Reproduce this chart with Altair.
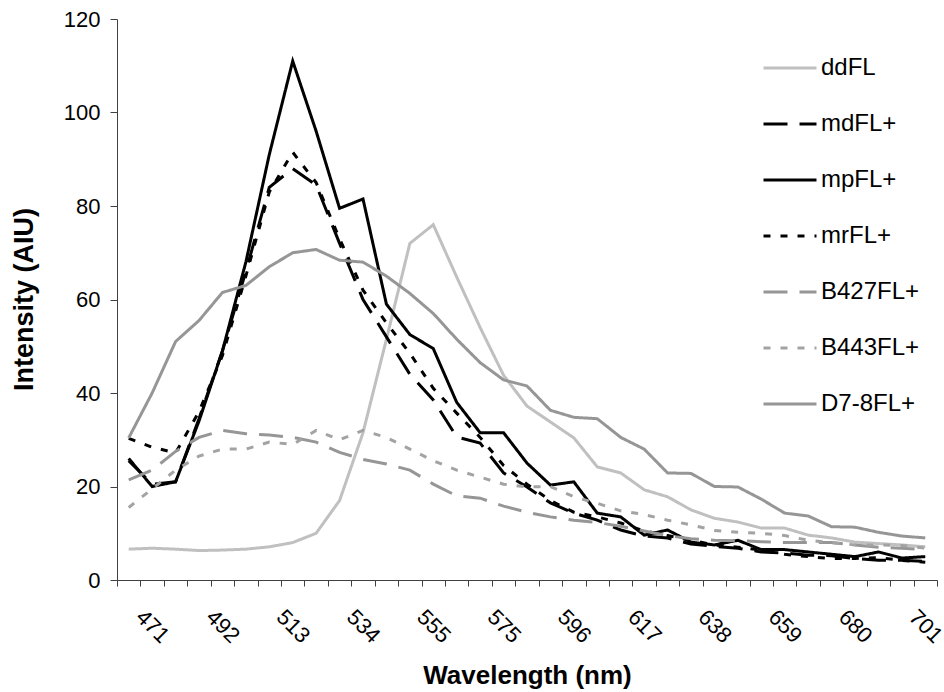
import altair as alt
import pandas as pd

wavelengths = [464, 471, 478, 485, 492, 499, 506, 513, 520, 527, 534, 541, 548, 555, 562,
               568, 575, 582, 589, 596, 603, 610, 617, 624, 631, 638, 645, 652, 659, 666,
               673, 680, 687, 694, 701]
tick_labels = ["471", "492", "513", "534", "555", "575", "596", "617", "638", "659", "680", "701"]
series_names = ["ddFL", "mdFL+", "mpFL+", "mrFL+", "B427FL+", "B443FL+", "D7-8FL+"]

ddFL = [6.6, 6.8, 6.6, 6.3, 6.4, 6.6, 7.1, 8.0, 10.0, 17.0, 31.5, 51.5, 72.0, 76.0, 64.8,
        54.0, 43.8, 37.2, 33.8, 30.4, 24.2, 22.9, 19.3, 17.8, 15.0, 13.2, 12.4, 11.1, 11.1,
        9.6, 9.0, 8.1, 7.8, 7.5, 7.1]
mdFL = [25.5, 20.5, 21.0, 34.5, 49.0, 66.0, 84.0, 88.0, 84.5, 72.0, 60.0, 52.0, 44.0, 38.5,
        30.6, 29.3, 22.9, 19.9, 16.5, 14.3, 12.8, 10.7, 9.4, 9.0, 7.7, 7.2, 6.8, 6.0, 5.8,
        5.3, 5.2, 4.6, 4.2, 4.2, 4.0]
mpFL = [26.0, 20.0, 21.0, 34.0, 49.0, 68.0, 91.0, 111.0, 96.0, 79.5, 81.5, 59.0, 52.5, 49.5,
        38.0, 31.5, 31.5, 25.0, 20.3, 21.0, 14.3, 13.5, 9.6, 10.7, 8.1, 7.5, 8.5, 6.5, 6.5,
        6.0, 5.5, 5.0, 6.0, 4.7, 5.0]
mrFL = [30.3, 28.4, 27.2, 36.0, 48.0, 65.0, 83.0, 91.5, 85.0, 73.0, 62.0, 55.0, 48.5, 41.0,
        35.7, 30.5, 24.5, 20.5, 17.0, 14.5, 13.5, 12.2, 10.5, 9.5, 8.5, 7.5, 7.0, 6.4, 5.5,
        5.0, 4.6, 4.6, 4.8, 4.2, 3.8]
B427 = [21.4, 23.5, 27.5, 30.5, 32.0, 31.3, 31.0, 30.5, 29.5, 27.3, 25.8, 24.8, 23.5, 20.5,
        18.0, 17.5, 15.8, 14.5, 13.5, 12.8, 12.3, 11.5, 10.5, 9.5, 8.8, 8.5, 8.4, 8.2, 8.0,
        8.0, 8.0, 7.5, 7.0, 6.8, 6.5]
B443 = [15.5, 19.5, 23.5, 26.5, 28.0, 28.0, 29.5, 29.0, 32.0, 30.0, 32.0, 30.5, 28.0, 25.5,
        23.5, 22.0, 20.5, 19.9, 20.0, 17.8, 16.4, 14.8, 14.0, 12.8, 11.8, 10.6, 10.2, 10.0,
        9.5, 8.5, 8.0, 7.5, 7.5, 7.4, 6.8]
D78 = [30.4, 40.0, 51.0, 55.5, 61.5, 63.0, 67.0, 70.0, 70.7, 68.4, 68.0, 65.0, 61.3, 57.0,
       51.5, 46.5, 42.8, 41.5, 36.3, 34.8, 34.5, 30.5, 28.0, 22.9, 22.8, 20.0, 19.9, 17.3,
       14.3, 13.7, 11.4, 11.3, 10.2, 9.4, 9.0]

series_values = [ddFL, mdFL, mpFL, mrFL, B427, B443, D78]
colors = ["#c0c0c0", "#000000", "#000000", "#000000", "#969696", "#a3a3a3", "#969696"]
dashes = [[1, 0], [24, 12], [1, 0], [7, 10], [24, 12], [7, 10], [1, 0]]

rows = []
for name, vals in zip(series_names, series_values):
    for wl, v in zip(wavelengths, vals):
        rows.append({"Wavelength": str(wl), "series": name, "value": v})
df = pd.DataFrame(rows)

FONT = "Liberation Sans"
label_list = "[" + ",".join("'" + t + "'" for t in tick_labels) + "]"

legend = alt.Legend(
    title=None, orient="none", legendX=645, legendY=21,
    symbolType="stroke", symbolSize=2809, symbolStrokeWidth=3,
    labelFont=FONT, labelFontSize=24, labelColor="#000000", labelOffset=3,
    rowPadding=16, padding=0,
)

chart = alt.Chart(df).mark_line(strokeWidth=3).encode(
    x=alt.X(
        "Wavelength:N",
        sort=[str(w) for w in wavelengths],
        scale=alt.Scale(type="band", paddingInner=0, paddingOuter=0),
        axis=alt.Axis(
            title="Wavelength (nm)", tickBand="extent", labelAngle=45,
            labelAlign="center", labelBaseline="middle", labelPadding=40,
            labelExpr="indexof(" + label_list + ", datum.label) >= 0 ? datum.label : ''",
            labelOverlap=False, labelFont=FONT, labelFontSize=22, labelColor="#000000",
            tickSize=6, tickColor="#404040", domainColor="#404040",
            titleFont=FONT, titleFontSize=26, titleFontWeight="bold", titleColor="#000000",
            titleX=410, titleY=103, titleAlign="center", titleBaseline="alphabetic",
        ),
    ),
    y=alt.Y(
        "value:Q",
        scale=alt.Scale(domain=[0, 120], nice=False),
        axis=alt.Axis(
            title="Intensity (AIU)", values=[0, 20, 40, 60, 80, 100, 120], grid=False,
            tickSize=7, labelPadding=10, labelFont=FONT, labelFontSize=22,
            labelColor="#000000", tickColor="#404040", domainColor="#404040",
            titleFont=FONT, titleFontSize=27, titleFontWeight="bold", titleColor="#000000",
            titleAngle=270, titleX=-85, titleY=280, titleAlign="center",
            titleBaseline="alphabetic",
        ),
    ),
    color=alt.Color("series:N", sort=series_names,
                    scale=alt.Scale(domain=series_names, range=colors), legend=legend),
    strokeDash=alt.StrokeDash("series:N", sort=series_names,
                              scale=alt.Scale(domain=series_names, range=dashes), legend=legend),
).properties(
    width=820, height=561,
    autosize=alt.AutoSizeParams(type="none"),
    padding={"left": 117, "top": 19, "right": 7, "bottom": 112},
).configure_view(stroke=None)

chart.save("out.html", embed_options={"renderer": "svg", "actions": False})
